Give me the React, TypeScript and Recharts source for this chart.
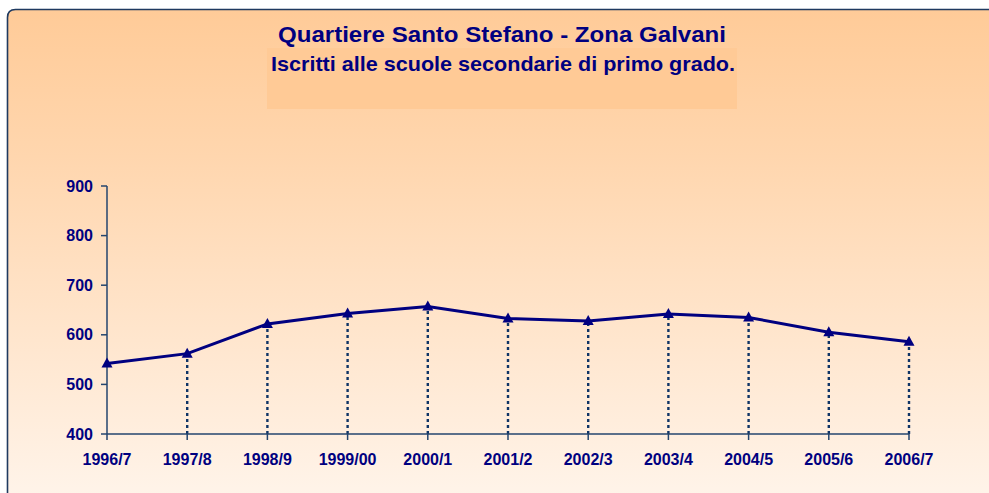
import React from 'react';
import { LineChart, Line, XAxis, YAxis, ReferenceLine } from 'recharts';

// anni scolastici
const anni = ['1996/7', '1997/8', '1998/9', '1999/00', '2000/1', '2001/2', '2002/3', '2003/4', '2004/5', '2005/6', '2006/7'];
// iscritti alle scuole secondarie di primo grado
const iscritti = [542, 562, 622, 643, 657, 633, 628, 642, 635, 605, 586];
const yTicks = [400, 500, 600, 700, 800, 900];

const titolo = 'Quartiere Santo Stefano - Zona Galvani';
const sottotitolo = 'Iscritti alle scuole secondarie di primo grado.';

const data = anni.map((anno, i) => ({ anno, iscritti: iscritti[i] }));

const NAVY = '#000080';
const AXIS = '#24456E';
const FONT = '"Liberation Sans", Arial, sans-serif';

const Triangle = (props: any) => {
    const { cx, cy, index } = props;
    if (cx == null || cy == null) return null;
    return (
        <polygon
            key={`tri-${index}`}
            points={`${cx},${cy - 6} ${cx + 5.5},${cy + 4} ${cx - 5.5},${cy + 4}`}
            fill={NAVY}
        />
    );
};

const App: React.FC = () => {
    return (
        <div style={{ position: 'absolute', left: 0, top: 0, width: 989, height: 493, overflow: 'hidden' }}>
            {/* Card background + titles */}
            <svg width={989} height={493} style={{ position: 'absolute', left: 0, top: 0 }}>
                <defs>
                    <linearGradient id="bg" x1="0" y1="0" x2="0" y2="1">
                        <stop offset="0%" stopColor="#FFCB98" />
                        <stop offset="30%" stopColor="#FFD6AE" />
                        <stop offset="100%" stopColor="#FFF4EA" />
                    </linearGradient>
                </defs>
                <path d="M7.5,500 V17.5 Q7.5,9.5 15.5,9.5 H1000 V500 Z" fill="url(#bg)" />
                <path d="M7.5,500 V17.5 Q7.5,9.5 15.5,9.5 H1000" fill="none" stroke="#1F3A60" strokeWidth={1.6} />
                <rect x={267} y={48} width={470} height={61} fill="#FFCA96" />
                <text
                    x={502}
                    y={42}
                    textAnchor="middle"
                    fontFamily={FONT}
                    fontWeight="bold"
                    fontSize={22}
                    fill={NAVY}
                    textLength={448}
                    lengthAdjust="spacingAndGlyphs"
                >
                    {titolo}
                </text>
                <text
                    x={503}
                    y={71}
                    textAnchor="middle"
                    fontFamily={FONT}
                    fontWeight="bold"
                    fontSize={21}
                    fill={NAVY}
                    textLength={464}
                    lengthAdjust="spacingAndGlyphs"
                >
                    {sottotitolo}
                </text>
            </svg>

            <div style={{ position: 'absolute', left: 0, top: 0 }}>
                <LineChart
                    width={989}
                    height={493}
                    data={data}
                    margin={{ top: 186, right: 80, bottom: 29, left: 47 }}
                >
                    <XAxis
                        dataKey="anno"
                        height={30}
                        interval={0}
                        stroke={AXIS}
                        strokeWidth={1.5}
                        tickSize={6}
                        tickMargin={14}
                        tick={{ fill: NAVY, fontSize: 16, fontWeight: 'bold', fontFamily: FONT }}
                    />
                    <YAxis
                        width={60}
                        domain={[400, 900]}
                        ticks={yTicks}
                        interval={0}
                        stroke={AXIS}
                        strokeWidth={1.5}
                        tickSize={6}
                        tickMargin={8}
                        tick={{ fill: NAVY, fontSize: 16, fontWeight: 'bold', fontFamily: FONT }}
                    />

                    {/* Linee tratteggiate verticali verso l'asse */}
                    {data.slice(1).map((d) => (
                        <ReferenceLine
                            key={d.anno}
                            segment={[{ x: d.anno, y: 400 }, { x: d.anno, y: d.iscritti }]}
                            stroke="#0F3466"
                            strokeWidth={2.4}
                            strokeDasharray="3 3"
                        />
                    ))}

                    <Line
                        type="linear"
                        dataKey="iscritti"
                        stroke={NAVY}
                        strokeWidth={3}
                        dot={<Triangle />}
                        activeDot={false}
                        isAnimationActive={false}
                    />
                </LineChart>
            </div>
        </div>
    );
};

export default App;
